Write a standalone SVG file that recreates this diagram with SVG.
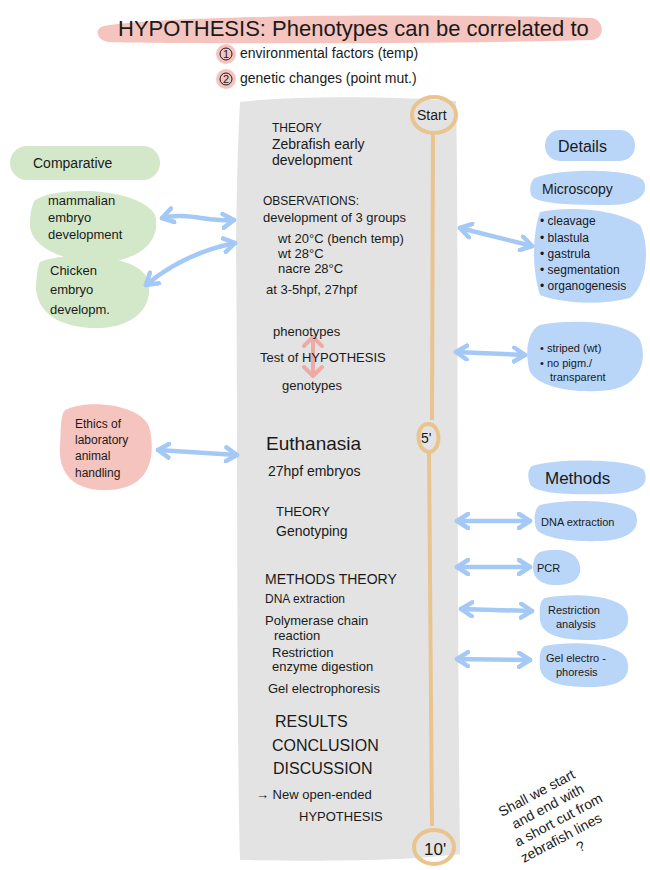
<svg xmlns="http://www.w3.org/2000/svg" width="650" height="870" viewBox="0 0 650 870">
<defs>
<style>
text{font-family:"Liberation Sans","DejaVu Sans",sans-serif;fill:#1a1a1a}
.t14{font-size:14px}
.t13{font-size:13px}
.t12{font-size:12px}
.t11{font-size:11px}
.big{font-size:19px}
.green{fill:#d3e8c8}
.pink{fill:#f5c4bf}
.blue{fill:#b9d5f8}
.conn{stroke:#a4c9f6;stroke-width:4.5;fill:none;stroke-linecap:round;marker-start:url(#ah);marker-end:url(#ah)}
.time{stroke:#e9c48e;stroke-width:4;fill:none}
.parrow{stroke:#eeaaa5;stroke-width:4;fill:none;stroke-linecap:round;stroke-linejoin:round}
</style>
<marker id="ah" markerUnits="userSpaceOnUse" markerWidth="16" markerHeight="18" refX="13" refY="9" orient="auto-start-reverse">
<path d="M2,2 L13,9 L2,16" fill="none" stroke="#a4c9f6" stroke-width="4.5" stroke-linecap="round" stroke-linejoin="round"/>
</marker>
</defs>
<rect width="650" height="870" fill="#ffffff"/>

<!-- Title -->
<g id="hypothesis">
<path d="M104,26 C180,14 450,14 592,18 C604,20 606,38 592,40 C450,44 180,44 108,42 C96,40 94,28 104,26 Z" class="pink"/>
<text x="118" y="36" style="font-size:22px">HYPOTHESIS: Phenotypes can be correlated to</text>
<circle cx="226" cy="54" r="10" class="pink"/>
<circle cx="226" cy="54" r="6" fill="none" stroke="#1a1a1a" stroke-width="1"/>
<text x="223" y="58" class="t11">1</text>
<text x="240" y="58" class="t14">environmental factors (temp)</text>
<circle cx="226" cy="79" r="10" class="pink"/>
<circle cx="226" cy="79" r="6" fill="none" stroke="#1a1a1a" stroke-width="1"/>
<text x="223" y="83" class="t11">2</text>
<text x="240" y="83" class="t14">genetic changes (point mut.)</text>
</g>

<!-- Central panel -->
<g id="panel">
<path d="M240,102 C300,95 400,97 456,101 C459,250 456,500 460,854 C400,862 300,861 240,860 C236,700 238,400 236,250 C237,180 238,140 240,102 Z" fill="#e3e3e3"/>
</g>

<!-- Timeline -->
<g id="timeline">
<path d="M433,132 L432,420 M429,451 L432,826" class="time"/>
<ellipse cx="434" cy="115" rx="22" ry="18" class="time"/>
<text x="417" y="120" class="t14">Start</text>
<path d="M428,424 C440,423 443,448 430,452 C416,452 414,425 428,424 Z" class="time"/>
<text x="421" y="443" class="t14">5'</text>
<ellipse cx="434" cy="847" rx="20" ry="17" class="time"/>
<text x="424" y="855" style="font-size:17px">10'</text>
</g>

<!-- Central texts -->
<g id="theory1">
<text x="272" y="132" class="t12">THEORY</text>
<text x="272" y="149" class="t14">Zebrafish early</text>
<text x="272" y="165" class="t14">development</text>
</g>
<g id="observations">
<text x="263" y="205" class="t12">OBSERVATIONS:</text>
<text x="263" y="222" class="t13">development of 3 groups</text>
<text x="278" y="243" class="t13">wt  20°C (bench temp)</text>
<text x="278" y="258" class="t13">wt  28°C</text>
<text x="278" y="273" class="t13">nacre 28°C</text>
<text x="266" y="294" class="t13">at 3-5hpf, 27hpf</text>
</g>
<g id="test">
<path d="M313,337 L313,376 M304,346 L313,337 L322,346 M304,367 L313,376 L322,367" class="parrow"/>
<text x="273" y="336" class="t13">phenotypes</text>
<text x="260" y="362" class="t13">Test of HYPOTHESIS</text>
<text x="282" y="390" class="t13">genotypes</text>
</g>
<g id="euthanasia">
<text x="266" y="450" class="big">Euthanasia</text>
<text x="268" y="476" class="t14">27hpf embryos</text>
</g>
<g id="theory2">
<text x="276" y="516" class="t13">THEORY</text>
<text x="276" y="536" class="t14">Genotyping</text>
</g>
<g id="methodstheory">
<text x="265" y="584" class="t14">METHODS THEORY</text>
<text x="265" y="603" class="t12">DNA extraction</text>
<text x="265" y="625" class="t13">Polymerase chain</text>
<text x="274" y="640" class="t13">reaction</text>
<text x="272" y="657" class="t13">Restriction</text>
<text x="272" y="671" class="t13">enzyme digestion</text>
<text x="268" y="693" class="t13">Gel electrophoresis</text>
</g>
<g id="results">
<text x="275" y="727" style="font-size:16px">RESULTS</text>
<text x="272" y="751" style="font-size:16px">CONCLUSION</text>
<text x="273" y="774" style="font-size:16px">DISCUSSION</text>
<text x="256" y="799" class="t13">→ New open-ended</text>
<text x="299" y="821" class="t13">HYPOTHESIS</text>
</g>

<!-- Left nodes -->
<g id="comparative">
<rect x="10" y="146" width="150" height="34" rx="17" class="green"/>
<text x="33" y="168" class="t14">Comparative</text>
</g>
<g id="mammalian">
<path d="M35,200 C60,185 140,188 155,215 C162,240 140,262 100,262 C60,262 30,245 30,225 C30,212 32,205 35,200 Z" class="green"/>
<text x="48" y="205" class="t13">mammalian</text>
<text x="48" y="222" class="t13">embryo</text>
<text x="48" y="239" class="t13">development</text>
</g>
<g id="chicken">
<path d="M40,262 C70,250 140,255 148,280 C155,310 130,330 90,328 C50,326 35,305 36,285 C37,272 38,266 40,262 Z" class="green"/>
<text x="50" y="275" class="t13">Chicken</text>
<text x="50" y="294" class="t13">embryo</text>
<text x="50" y="314" class="t13">developm.</text>
</g>
<g id="ethics">
<path d="M65,410 C90,398 145,405 150,430 C156,460 148,488 110,490 C70,492 58,470 60,445 C61,430 60,416 65,410 Z" class="pink"/>
<text x="75" y="428" class="t12">Ethics of</text>
<text x="75" y="444" class="t12">laboratory</text>
<text x="75" y="460" class="t12">animal</text>
<text x="75" y="477" class="t12">handling</text>
</g>

<!-- Right nodes -->
<g id="details">
<rect x="545" y="130" width="90" height="31" rx="15" class="blue"/>
<text x="558" y="152" style="font-size:16px">Details</text>
</g>
<g id="microscopy">
<path d="M535,178 C560,168 630,168 643,180 C650,192 640,205 610,205 C570,205 535,204 531,195 C529,187 531,181 535,178 Z" class="blue"/>
<text x="542" y="194" class="t14">Microscopy</text>
</g>
<g id="stages">
<path d="M540,212 C570,205 620,210 640,225 C650,245 648,285 630,298 C600,306 560,303 540,295 C532,270 532,235 540,212 Z" class="blue"/>
<text x="540" y="225" class="t12">• cleavage</text>
<text x="540" y="242" class="t12">• blastula</text>
<text x="540" y="258" class="t12">• gastrula</text>
<text x="540" y="274" class="t12">• segmentation</text>
<text x="540" y="290" class="t12">• organogenesis</text>
</g>
<g id="pigment">
<path d="M540,325 C575,318 630,322 640,340 C648,360 640,385 610,390 C575,394 540,388 530,372 C524,352 528,330 540,325 Z" class="blue"/>
<text x="540" y="352" class="t11">• striped (wt)</text>
<text x="540" y="367" class="t11">• no pigm./</text>
<text x="550" y="381" class="t11">transparent</text>
</g>
<g id="methods">
<path d="M532,466 C555,458 630,458 644,470 C650,485 640,493 610,494 C570,495 535,494 530,484 C527,476 528,469 532,466 Z" class="blue"/>
<text x="545" y="484" style="font-size:17px">Methods</text>
</g>
<g id="dna">
<path d="M540,505 C570,498 625,500 635,512 C642,528 630,540 600,541 C570,542 540,538 536,528 C533,518 535,508 540,505 Z" class="blue"/>
<text x="541" y="526" class="t11">DNA extraction</text>
</g>
<g id="pcr">
<path d="M540,552 C560,546 578,552 580,566 C582,580 570,586 552,585 C538,584 532,575 533,565 C534,558 536,554 540,552 Z" class="blue"/>
<text x="537" y="572" class="t11">PCR</text>
</g>
<g id="restriction">
<path d="M545,598 C575,592 622,596 627,612 C632,630 620,640 590,640 C560,640 542,635 540,620 C539,608 540,600 545,598 Z" class="blue"/>
<text x="548" y="614" class="t11">Restriction</text>
<text x="556" y="628" class="t11">analysis</text>
</g>
<g id="gel">
<path d="M545,646 C575,640 622,644 627,660 C632,678 620,687 590,687 C560,687 542,682 540,668 C539,656 540,648 545,646 Z" class="blue"/>
<text x="546" y="662" class="t11">Gel electro -</text>
<text x="556" y="676" class="t11">phoresis</text>
</g>

<!-- Note -->
<g id="note" transform="translate(568,818) rotate(-28)">
<text x="-58" y="-32" style="font-size:14px">Shall we start</text>
<text x="-52" y="-15" style="font-size:14px">and end with</text>
<text x="-58" y="2" style="font-size:14px">a short cut from</text>
<text x="-60" y="19" style="font-size:14px">zebrafish lines</text>
<text x="-6" y="36" style="font-size:14px">?</text>
</g>

<!-- Connectors -->
<g id="connectors">
<path d="M162,218 C185,212 210,222 234,220" class="conn"/>
<path d="M235,243 C200,250 170,265 146,285" class="conn"/>
<path d="M158,450 L237,455" class="conn"/>
<path d="M460,228 L532,246" class="conn"/>
<path d="M456,352 L525,355" class="conn"/>
<path d="M457,521 L530,521" class="conn"/>
<path d="M457,567 L530,567" class="conn"/>
<path d="M461,609 L532,611" class="conn"/>
<path d="M457,659 L530,660" class="conn"/>
</g>
</svg>
